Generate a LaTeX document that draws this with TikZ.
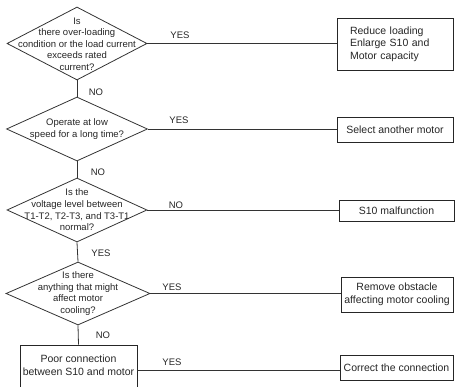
\documentclass[tikz,border=0pt]{standalone}
\usepackage{fontspec}
\setmainfont{Liberation Sans}
\usetikzlibrary{shapes.geometric}
\begin{document}
\begin{tikzpicture}[x=1pt,y=1pt,
  every node/.style={font=\fontsize{9.5}{11.6}\selectfont, text=black!85},
  boxfont/.style={font=\fontsize{10.5}{12.6}\selectfont},
  dia/.style={draw=black!80, line width=0.8pt, shape=diamond, inner sep=0pt},
  actbox/.style={draw=black!85, line width=0.9pt, rectangle, inner sep=0pt, boxfont},
  conn/.style={draw=black!80, line width=0.8pt},
  lbl/.style={inner sep=0pt}
]
\useasboundingbox (0,0) rectangle (455,-387);
\clip (0,0) rectangle (455,-387);
% decision diamonds
\node[dia, minimum width=140pt, minimum height=73pt] (d1) at (77,-43.5) {};
\node[align=center, inner sep=0pt] (t1) at (77,-44) {Is\\there over-loading\\condition or the load current\\exceeds rated\\current?};
\node[dia, minimum width=141pt, minimum height=64pt] (d2) at (77,-129) {};
\node[align=center, inner sep=0pt] (t2) at (77,-129) {Operate at low\\speed for a long time?};
\node[dia, minimum width=140pt, minimum height=64pt] (d3) at (77,-210) {};
\node[align=center, inner sep=0pt] (t3) at (77,-210) {Is the\\voltage level between\\T1-T2, T2-T3, and T3-T1\\normal?};
\node[dia, minimum width=144pt, minimum height=63pt] (d4) at (78,-293.5) {};
\node[align=center, inner sep=0pt] (t4) at (78,-293.5) {Is there\\anything that might\\affect motor\\cooling?};
% bottom process box
\node[actbox, minimum width=117pt, minimum height=50pt] (r) at (78.5,-370) {};
\node[align=center, inner sep=0pt, boxfont] (rt) at ([yshift=4.5pt]r.center) {Poor connection\\between S10 and motor};
% action boxes
\node[actbox, minimum width=116pt, minimum height=52pt, text width=90pt, align=left] (b1) at (395,-44) {Reduce loading\\Enlarge S10 and\\Motor capacity};
\node[actbox, minimum width=116pt, minimum height=25pt] (b2) at (395,-129.5) {Select another motor};
\node[actbox, minimum width=115pt, minimum height=21pt] (b3) at (396.5,-210.5) {S10 malfunction};
\node[actbox, minimum width=112pt, minimum height=35pt, align=center] (b4) at (397,-294.5) {Remove obstacle\\affecting motor cooling};
\node[actbox, minimum width=113pt, minimum height=25pt] (b5) at (396.5,-367.5) {Correct the connection};
% connectors
\draw[conn] (d1.south) -- (d2.north);
\draw[conn] (d2.south) -- (d3.north);
\draw[conn] (d3.south) -- (d4.north);
\draw[conn] (d4.south) -- (r.north);
\draw[conn] (d1.east) -- (d1.east -| b1.west);
\draw[conn] (d2.east) -- (d2.east -| b2.west);
\draw[conn] (d3.east) -- (d3.east -| b3.west);
\draw[conn] (d4.east) -- (d4.east -| b4.west);
\draw[conn] (r.east) -- (r.east -| b5.west);
% labels
\node[lbl] (l1) at (180,-35) {YES};
\node[lbl] (l2) at (96,-92) {NO};
\node[lbl] (l3) at (179,-120) {YES};
\node[lbl] (l4) at (98,-172) {NO};
\node[lbl] (l5) at (176,-205) {NO};
\node[lbl] (l6) at (101,-253) {YES};
\node[lbl] (l7) at (172,-287) {YES};
\node[lbl] (l8) at (103,-335) {NO};
\node[lbl] (l9) at (172,-362) {YES};
\end{tikzpicture}
\end{document}
